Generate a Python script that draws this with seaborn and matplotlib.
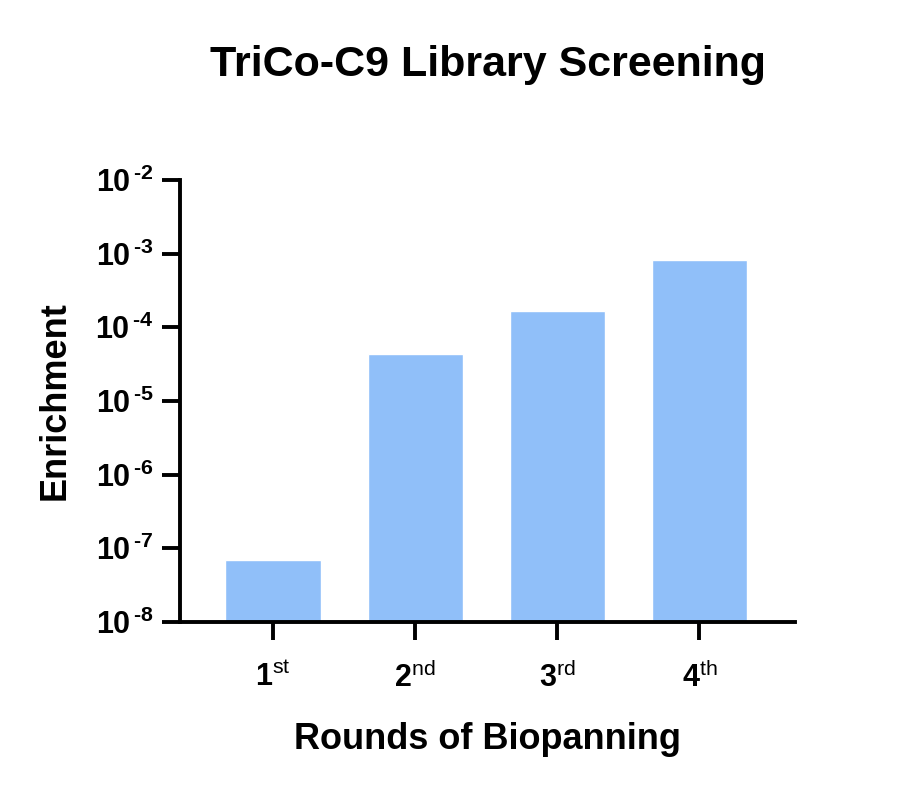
import math
import matplotlib
matplotlib.use("Agg")
import matplotlib.pyplot as plt
import matplotlib.ticker as mticker
import seaborn as sns
import pandas as pd

rounds = ["1st", "2nd", "3rd", "4th"]
round_nums = ["1", "2", "3", "4"]
round_sups = ["st", "nd", "rd", "th"]
enrichment = [7.0e-8, 4.3e-5, 1.65e-4, 8.1e-4]

sns.set_style("ticks")
plt.rcParams["font.family"] = ["Liberation Sans", "DejaVu Sans"]
plt.rcParams["text.color"] = "black"
plt.rcParams["axes.labelcolor"] = "black"
plt.rcParams["xtick.color"] = "black"
plt.rcParams["ytick.color"] = "black"
plt.rcParams["mathtext.fontset"] = "custom"
plt.rcParams["mathtext.rm"] = "Liberation Sans:bold"
plt.rcParams["mathtext.bf"] = "Liberation Sans:bold"
plt.rcParams["mathtext.sf"] = "Liberation Sans"
plt.rcParams["mathtext.it"] = "Liberation Sans:bold"
plt.rcParams["mathtext.default"] = "rm"

df = pd.DataFrame({"round": rounds, "enrichment": enrichment})

fig = plt.figure(figsize=(9, 7.88), dpi=100)
ax = fig.add_axes([0.2, 0.2107, 0.683, 0.5609])

sns.barplot(data=df, x="round", y="enrichment", color="#90BFF9",
            saturation=1, width=0.67, ax=ax)
ax.set_yscale("log")

ax.set_ylim(1e-8, 1e-2)
ax.set_xlim(-0.655, 3.67)
ax.yaxis.set_major_locator(mticker.LogLocator(base=10, numticks=10))
ax.yaxis.set_minor_locator(mticker.NullLocator())
ax.yaxis.set_major_formatter(mticker.FuncFormatter(
    lambda v, p: r"$10^{\,\text{-%d}}$" % abs(round(math.log10(v)))))
ax.set_xticks(range(len(rounds)))
ax.set_xticklabels([r"$%s^{\mathsf{%s}}$" % (n, s)
                    for n, s in zip(round_nums, round_sups)])

for side in ["top", "right"]:
    ax.spines[side].set_visible(False)
for side in ["left", "bottom"]:
    ax.spines[side].set_linewidth(2.8)
    ax.spines[side].set_color("black")
ax.tick_params(axis="both", which="major", direction="out", length=13,
               width=2.8, color="black", labelsize=22)
ax.tick_params(axis="x", pad=16)
ax.tick_params(axis="y", pad=6)

ax.set_xlabel("Rounds of Biopanning", fontsize=26, fontweight="bold", labelpad=20)
ax.set_ylabel("Enrichment", fontsize=26, fontweight="bold", labelpad=16)
fig.suptitle("TriCo-C9 Library Screening", fontsize=31, fontweight="bold",
             x=0.542, y=0.943)

fig.savefig("out.png", dpi=100, facecolor="white")
